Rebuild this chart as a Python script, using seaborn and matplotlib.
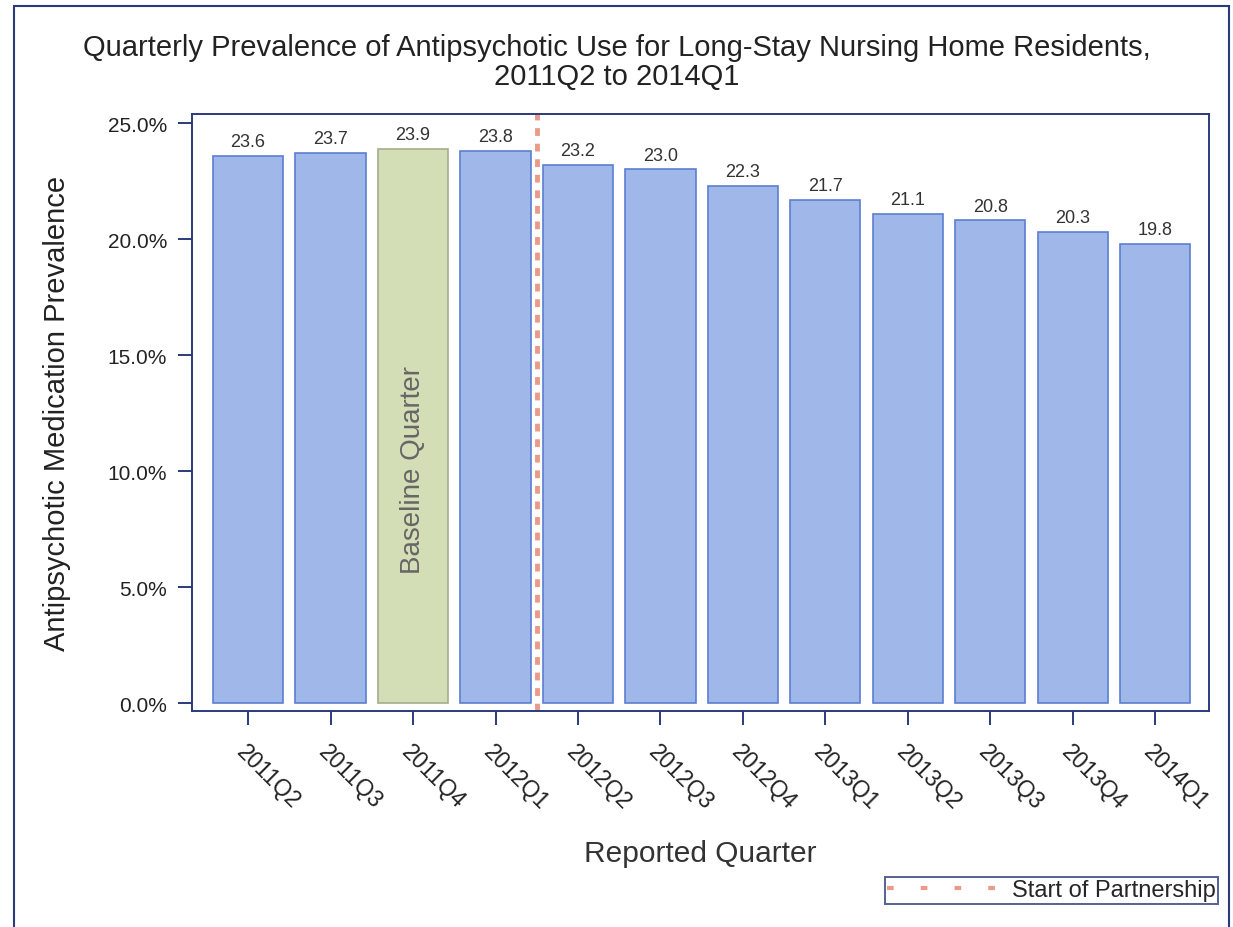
import numpy as np
import pandas as pd
import seaborn as sns
import matplotlib.pyplot as plt
from matplotlib.patches import Rectangle
from matplotlib.lines import Line2D

quarters = ['2011Q2', '2011Q3', '2011Q4', '2012Q1', '2012Q2', '2012Q3',
            '2012Q4', '2013Q1', '2013Q2', '2013Q3', '2013Q4', '2014Q1']
prevalence = [23.6, 23.7, 23.9, 23.8, 23.2, 23.0, 22.3, 21.7, 21.1, 20.8, 20.3, 19.8]
baseline_quarter = '2011Q4'
partnership_start = 3.5  # between 2012Q1 and 2012Q2

sns.set_theme(style="white")
plt.rcParams['font.family'] = ['Liberation Sans', 'DejaVu Sans']

df = pd.DataFrame({'quarter': quarters, 'prevalence': prevalence})
colors = ['#d3ddb6' if q == baseline_quarter else '#9fb8e9' for q in quarters]
dash_color = '#e99a88'

fig = plt.figure(figsize=(12.33, 9.28), dpi=100)
ax = fig.add_axes([0.1557, 0.2328, 0.8248, 0.6433])

sns.barplot(data=df, x='quarter', y='prevalence', hue='quarter', palette=colors,
            legend=False, width=0.85, saturation=1, ax=ax)

for patch, q in zip(ax.patches, quarters):
    if q == baseline_quarter:
        patch.set_edgecolor('#a3ad8c')
    else:
        patch.set_edgecolor('#5b7fcf')
    patch.set_linewidth(1.2)

for i, v in enumerate(prevalence):
    ax.text(i, v + 0.25, f'{v:.1f}', ha='center', va='bottom', fontsize=13, color='#333333')

bi = quarters.index(baseline_quarter)
ax.text(bi, 10.1, 'Baseline Quarter', rotation=90, ha='center', va='center',
        fontsize=20, color='#666666')

ax.axvline(partnership_start, color=dash_color, linestyle=(0, (1.6, 1.6)), linewidth=3.5)

ax.set_xlim(-0.68, 11.65)
ax.set_ylim(-0.34, 25.39)
ax.set_yticks([0, 5, 10, 15, 20, 25])
ax.set_yticklabels([f'{t:.1f}%' for t in [0, 5, 10, 15, 20, 25]], fontsize=15, color='#222222')
ax.set_xticks(range(len(quarters)))
ax.set_xticklabels(quarters, rotation=-45, ha='left', rotation_mode='anchor', fontsize=16.5,
                   color='#222222')
ax.tick_params(axis='both', length=10, width=1.4, color='#2b3a7a', direction='out',
               bottom=True, left=True)
ax.tick_params(axis='x', pad=11)
ax.tick_params(axis='y', pad=8)

for s in ax.spines.values():
    s.set_color('#2b3a7a')
    s.set_linewidth(1.4)

ax.set_xlabel('Reported Quarter', fontsize=21.5, color='#333333', labelpad=18)
ax.set_ylabel('Antipsychotic Medication Prevalence', fontsize=21, color='#222222', labelpad=26)

fig.text(0.5, 0.933, 'Quarterly Prevalence of Antipsychotic Use for Long-Stay Nursing Home Residents,\n'
         '2011Q2 to 2014Q1', fontsize=21, color='#222222', ha='center', va='center',
         linespacing=1.05)

handle = Line2D([], [], color=dash_color, linewidth=3, linestyle=(0, (1.6, 6.5)))
leg = fig.legend([handle], ['Start of Partnership'], loc='lower right',
                 bbox_to_anchor=(0.988, 0.025), fontsize=17, frameon=True, fancybox=False,
                 handlelength=4.6, borderpad=0.1, handletextpad=0.7, borderaxespad=0)
leg.get_frame().set_edgecolor('#2b3a7a')
leg.get_frame().set_linewidth(1.4)

# outer border around the whole graphic
fig.patches.append(Rectangle((0.011, -0.01), 0.986, 1.002, transform=fig.transFigure,
                             fill=False, edgecolor='#2b3a7a', linewidth=1.5))

plt.savefig('out.png', dpi=100)
